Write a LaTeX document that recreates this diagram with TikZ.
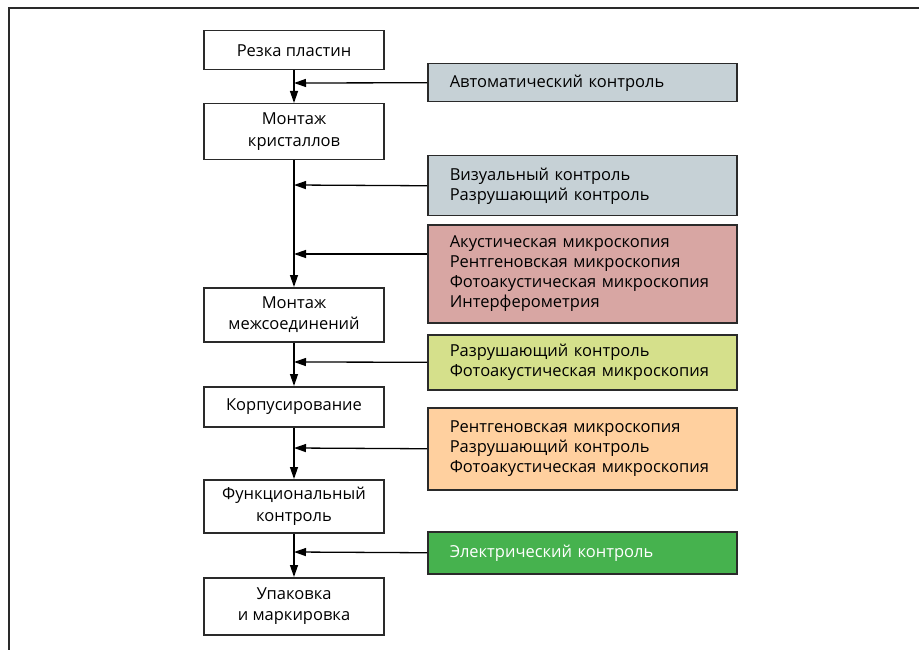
\documentclass[tikz,border=0pt]{standalone}
\usepackage{fontspec}
\setmainfont{Open Sans}
\usetikzlibrary{arrows.meta}
\definecolor{ctrlgrey}{HTML}{C6D1D6}
\definecolor{ctrlred}{HTML}{D8A6A3}
\definecolor{ctrllime}{HTML}{D5E08B}
\definecolor{ctrlorange}{HTML}{FFD09F}
\definecolor{ctrlgreen}{HTML}{46B24E}
\definecolor{edgegrey}{HTML}{2A2A2A}
\tikzset{
  stage/.style={draw=edgegrey, line width=1.5pt, minimum width=180pt, anchor=north,
    align=center, font=\fontsize{16.5}{21.5}\selectfont, inner sep=0pt},
  check/.style={draw=edgegrey, line width=1.5pt, minimum width=309pt, anchor=north west,
    text width=265pt, inner xsep=22pt, inner ysep=0pt, align=left,
    font=\fontsize{16.5}{20}\selectfont},
  flow/.style={line width=1.3pt, -{Triangle[length=12pt,width=8pt]}},
}
\begin{document}
\begin{tikzpicture}[x=1pt, y=-1pt]
    \useasboundingbox (0,0) rectangle (919,650);
    \draw [edgegrey, line width=1.3pt] (9,650) -- (9,8) -- (919,8);

    % process stages
    \node [stage, minimum height=39pt] (cut) at (294,30) {Резка пластин};
    \node [stage, minimum height=56pt] (die) at (294,103) {Монтаж\\кристаллов};
    \node [stage, minimum height=54pt] (bond) at (294,287) {Монтаж\\межсоединений};
    \node [stage, minimum height=40pt] (pack) at (294,386) {Корпусирование};
    \node [stage, minimum height=53pt] (func) at (294,479) {Функциональный\\контроль};
    \node [stage, minimum height=57pt] (mark) at (294,577) {Упаковка\\и маркировка};

    % inspection methods
    \node [check, fill=ctrlgrey, minimum height=38pt] (auto) at (427,63) {Автоматический контроль};
    \node [check, fill=ctrlgrey, minimum height=60pt] (visual) at (427,155)
        {Визуальный контроль\\Разрушающий контроль};
    \node [check, fill=ctrlred, minimum height=98pt] (scope) at (427,224)
        {Акустическая микроскопия\\Рентгеновская микроскопия\\Фотоакустическая микроскопия\\Интерферометрия};
    \node [check, fill=ctrllime, minimum height=55pt] (destr) at (427,334)
        {Разрушающий контроль\\Фотоакустическая микроскопия};
    \node [check, fill=ctrlorange, minimum height=82pt] (xray) at (427,407)
        {Рентгеновская микроскопия\\Разрушающий контроль\\Фотоакустическая микроскопия};
    \node [check, fill=ctrlgreen, minimum height=42pt, text=white] (elec) at (427,531)
        {Электрический контроль};

    \coordinate (j1) at (294,83);
    \coordinate (j2) at (294,185);
    \coordinate (j3) at (294,254);
    \coordinate (j4) at (294,362);
    \coordinate (j5) at (294,448);
    \coordinate (j6) at (294,552);

    \draw [flow] (cut) -- (die);
    \draw [flow] (die) -- (bond);
    \draw [flow] (bond) -- (pack);
    \draw [flow] (pack) -- (func);
    \draw [flow] (func) -- (mark);

    \draw [flow] (auto.west) -- (j1);
    \draw [flow] (visual.west) -- (j2);
    \draw [flow] (scope.west |- j3) -- (j3);
    \draw [flow] (destr.west) -- (j4);
    \draw [flow] (xray.west) -- (j5);
    \draw [flow] (elec.west) -- (j6);
\end{tikzpicture}
\end{document}
